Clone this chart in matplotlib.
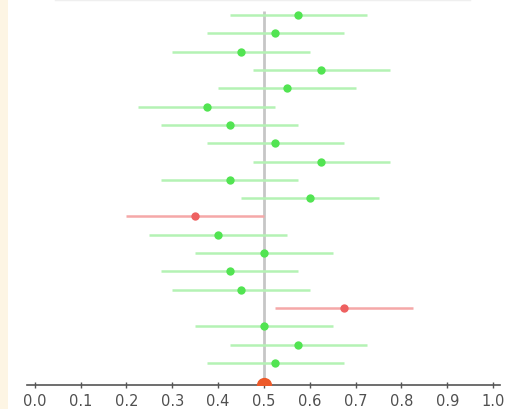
import numpy as np
import matplotlib
matplotlib.use('Agg')
import matplotlib.pyplot as plt
from matplotlib.lines import Line2D
from matplotlib.patches import Rectangle

# point estimates, top row first
ESTIMATES = [0.575, 0.525, 0.45, 0.625, 0.55, 0.375, 0.425, 0.525, 0.625, 0.425,
             0.6, 0.35, 0.4, 0.5, 0.425, 0.45, 0.675, 0.5, 0.575, 0.525]
HALF_WIDTH = 0.15
TRUE_VALUE = 0.5
X_TICKS = [0.0, 0.1, 0.2, 0.3, 0.4, 0.5, 0.6, 0.7, 0.8, 0.9, 1.0]

GREEN_LINE = '#b4f2b4'
GREEN_DOT = '#52e452'
RED_LINE = '#f5a8a8'
RED_DOT = '#ee6060'


def covers(est, half, true_value):
    return est - half < true_value < est + half


fig = plt.figure(figsize=(5.12, 4.10), dpi=100)
fig.patches.append(Rectangle((0, 0), 8 / 512, 1, transform=fig.transFigure,
                             facecolor='#fdf5e4', edgecolor='none'))
fig.lines.append(Line2D([55 / 512, 470 / 512], [0.998, 0.998], transform=fig.transFigure,
                        color='#efefef', lw=1))

ax = fig.add_axes([27 / 512, 24 / 410, 473 / 512, 381 / 410])

n = len(ESTIMATES)
ys = np.arange(n, 0, -1)
ax.vlines(TRUE_VALUE, -0.2, n + 0.2, color='#c6c6c6', lw=2, zorder=1)

for y, est in zip(ys, ESTIMATES):
    ok = covers(est, HALF_WIDTH, TRUE_VALUE)
    line_c = GREEN_LINE if ok else RED_LINE
    dot_c = GREEN_DOT if ok else RED_DOT
    ax.plot([est - HALF_WIDTH, est + HALF_WIDTH], [y, y], color=line_c, lw=1.8, zorder=2,
            solid_capstyle='butt')
    ax.plot(est, y, 'o', color=dot_c, ms=6, mec='none', zorder=3)

ax.plot(TRUE_VALUE, -0.2, 'o', color='#ec5a2a', ms=11, mec='none', zorder=4, clip_on=True)

ax.set_xlim(-0.017, 1.015)
ax.set_ylim(-0.2, 20.6)
for s in ['top', 'right', 'left']:
    ax.spines[s].set_visible(False)
ax.spines['bottom'].set_color('#555555')
ax.spines['bottom'].set_linewidth(1.2)
ax.set_yticks([])
ax.set_xticks(X_TICKS)
ax.set_xticklabels(['%.1f' % t for t in X_TICKS])
ax.tick_params(axis='x', direction='inout', length=5, width=1, color='#555555',
               labelcolor='#505050', labelsize=10.5, pad=3)

fig.savefig('out.png', dpi=100)
